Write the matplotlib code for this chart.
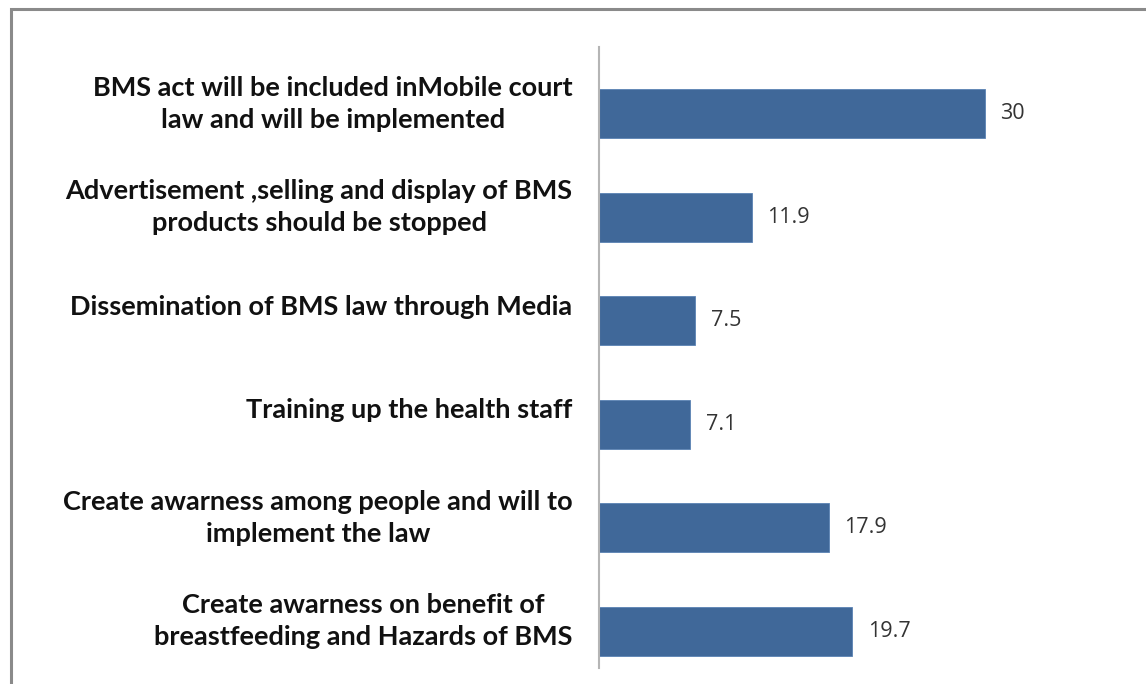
import numpy as np
import matplotlib.pyplot as plt
import matplotlib.transforms as mtransforms
from matplotlib.patches import Rectangle

# Chart data (top to bottom)
categories = [
    "BMS act will be included inMobile court\nlaw and will be implemented",
    "Advertisement ,selling and display of BMS\nproducts should be stopped",
    "Dissemination of BMS law through Media",
    "Training up the health staff",
    "Create awarness among people and will to\nimplement the law",
    "Create awarness on benefit of\nbreastfeeding and Hazards of BMS",
]
values = [30, 11.9, 7.5, 7.1, 17.9, 19.7]
value_labels = ["30", "11.9", "7.5", "7.1", "17.9", "19.7"]

W, H = 1146, 684
fig = plt.figure(figsize=(W / 100, H / 100), dpi=100)
fig.patch.set_facecolor("white")

# outer gray frame (runs off right and bottom edges)
fig.patches.append(Rectangle((11 / W, -0.05), 1.1, 1 - 9 / H + 0.05,
                             transform=fig.transFigure, fill=False,
                             edgecolor="#8a8a8a", linewidth=2.2))

ax = fig.add_axes([599 / W, 1 / H, 450 / W, 621 / H])
y = np.arange(len(categories))
ax.barh(y, values, height=0.47, color="#406899", edgecolor="#5a82b4", linewidth=0.6)
ax.set_xlim(0, 35)
ax.set_ylim(len(categories) - 0.5, -0.5)

for spine in ax.spines.values():
    spine.set_visible(False)
# vertical axis line sits a little above the bars, as in the original
ax.axvline(0, ymin=15 / 621, ymax=636 / 621, color="#b5b5b5", linewidth=1.5,
           clip_on=False, zorder=3)
ax.set_xticks([])
ax.set_yticks(y)
ax.set_yticklabels(categories, fontfamily="Lato", fontweight="bold",
                   fontsize=19.5, color="#111111", multialignment="center",
                   linespacing=1.4)
ax.tick_params(axis="y", length=0, pad=19)
shift = mtransforms.ScaledTranslation(0, 16 / 100, fig.dpi_scale_trans)
for lbl in ax.get_yticklabels():
    lbl.set_transform(lbl.get_transform() + shift)

for yi, v, t in zip(y, values, value_labels):
    ax.annotate(t, (v, yi), xytext=(11, 0), textcoords="offset points",
                va="center", ha="left", fontsize=15.5, fontfamily="Open Sans",
                color="#333333")

fig.savefig("out.png", dpi=100)
